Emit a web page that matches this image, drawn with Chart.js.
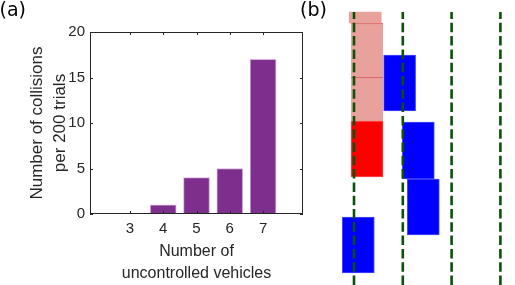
<!DOCTYPE html>
<html>
<head>
<meta charset="utf-8">
<script src="https://cdn.jsdelivr.net/npm/chart.js@4"></script>
<style>
  body { margin: 0; background: #fff; }
  #wrap { position: relative; width: 515px; height: 285px; overflow: hidden; }
  canvas { position: absolute; top: 0; }
  .tag { position: absolute; top: 0; font-family: "DejaVu Sans", sans-serif; font-size: 19px; line-height: 1; color: #000; }
</style>
</head>
<body>
<div id="wrap">
  <canvas id="plotA" width="305" height="285" style="left:0"></canvas>
  <canvas id="plotB" width="210" height="285" style="left:305px"></canvas>
  <div class="tag" style="left:-0.5px">(a)</div>
  <div class="tag" style="left:300px">(b)</div>
</div>
<script>
// panel (a): collisions per 200 trials
const vehicles = [3, 4, 5, 6, 7];
const collisions = [0, 1, 4, 5, 17];
const yTicks = [0, 5, 10, 15, 20];

// panel (b): lane positions (lane units) and vehicle spans (length units)
const laneLines = [0, 1, 2, 3];
const laneTop = 27.3;
const blueX = [0.935, 1.318, 1.42, 0.088];
const blueY = [[17.4, 23.0], [10.6, 16.3], [5.0, 10.6], [1.2, 6.8]];
const redX = [0.267];
const redY = [[10.8, 16.4]];
const trailX = [0.267, 0.267, 0.23];
const trailY = [[16.4, 20.8], [20.8, 26.2], [26.2, 27.3]];

const axisColor = '#262626';
const regular = '"Liberation Sans", Arial, sans-serif';

const boxPlugin = {
    id: 'matlabBox',
    afterDraw(chart) {
        const { ctx, chartArea: a, scales: { x, y } } = chart;
        ctx.save();
        ctx.strokeStyle = axisColor;
        ctx.lineWidth = 1;
        ctx.strokeRect(a.left + 0.5, a.top + 0.5, a.right - a.left - 1, a.bottom - a.top - 1);
        ctx.beginPath();
        vehicles.forEach(v => {
            const px = Math.round(x.getPixelForValue(v)) + 0.5;
            ctx.moveTo(px, a.bottom); ctx.lineTo(px, a.bottom - 3);
            ctx.moveTo(px, a.top); ctx.lineTo(px, a.top + 3);
        });
        yTicks.forEach(v => {
            const py = Math.round(y.getPixelForValue(v)) + 0.5;
            ctx.moveTo(a.left, py); ctx.lineTo(a.left + 3, py);
            ctx.moveTo(a.right, py); ctx.lineTo(a.right - 3, py);
        });
        ctx.stroke();
        ctx.restore();
    }
};

new Chart(document.getElementById('plotA'), {
    type: 'bar',
    data: {
        datasets: [{
            data: vehicles.map((v, i) => ({ x: v, y: collisions[i] })),
            backgroundColor: '#7e2f8e',
            borderColor: '#d6b4dc',
            borderWidth: 1,
            barThickness: 26
        }]
    },
    options: {
        responsive: false,
        animation: false,
        events: [],
        layout: { padding: { top: 32, right: 2, left: 0, bottom: 0 } },
        plugins: { legend: { display: false }, tooltip: { enabled: false } },
        scales: {
            x: {
                type: 'linear', min: 1.8, max: 8.2, offset: false,
                grid: { display: false, drawTicks: false },
                border: { display: false },
                afterBuildTicks: s => { s.ticks = vehicles.map(v => ({ value: v })); },
                afterFit: s => { s.height = 71; },
                ticks: { color: axisColor, padding: 6, font: { family: regular, size: 15 } },
                title: {
                    display: true, text: ['Number of', 'uncontrolled vehicles'], color: axisColor,
                    padding: { top: 0, bottom: 0 },
                    font: { family: regular, size: 16, lineHeight: 1.4 }
                }
            },
            y: {
                min: 0, max: 20,
                grid: { display: false, drawTicks: false },
                border: { display: false },
                afterFit: s => { s.width = 90; },
                ticks: { stepSize: 5, color: axisColor, padding: 5, font: { family: regular, size: 15 } },
                title: {
                    display: true, text: ['Number of collisions', 'per 200 trials'], color: axisColor,
                    padding: { top: 26, bottom: 0 },
                    font: { family: regular, size: 17, lineHeight: 1.353 }
                }
            }
        }
    },
    plugins: [boxPlugin]
});

const spans = (xs, ys) => xs.map((x, i) => ({ x: x, y: ys[i] }));

new Chart(document.getElementById('plotB'), {
    type: 'bar',
    data: {
        datasets: [
            ...laneLines.map(l => ({
                type: 'line',
                data: [{ x: l, y: 0 }, { x: l, y: laneTop }],
                borderColor: '#0a520a',
                borderWidth: 2.6,
                borderDash: [9.5, 3.8],
                pointRadius: 0,
                order: 0
            })),
            {
                data: spans(trailX, trailY),
                backgroundColor: '#e8a29b',
                borderColor: 'rgba(205,70,70,0.8)',
                borderWidth: c => c.dataIndex < 2 ? { top: 1.5, right: 0, bottom: 0, left: 0 } : 0,
                barThickness: 32,
                grouped: false,
                order: 2
            },
            {
                data: spans(redX, redY),
                backgroundColor: '#ff0000',
                borderColor: '#ff5050',
                borderWidth: 1,
                borderSkipped: false,
                barThickness: 32,
                grouped: false,
                order: 1
            },
            {
                data: spans(blueX, blueY),
                backgroundColor: '#0000ff',
                borderColor: '#4a4aff',
                borderWidth: 1,
                borderSkipped: false,
                barThickness: 32,
                grouped: false,
                order: 1
            }
        ]
    },
    options: {
        responsive: false,
        animation: false,
        events: [],
        layout: { padding: 0 },
        plugins: { legend: { display: false }, tooltip: { enabled: false } },
        scales: {
            x: { type: 'linear', min: -49 / 48.8, max: -49 / 48.8 + 210 / 48.8, offset: false, display: false },
            y: { min: 0, max: 28.5, display: false }
        }
    }
});
</script>
</body>
</html>
